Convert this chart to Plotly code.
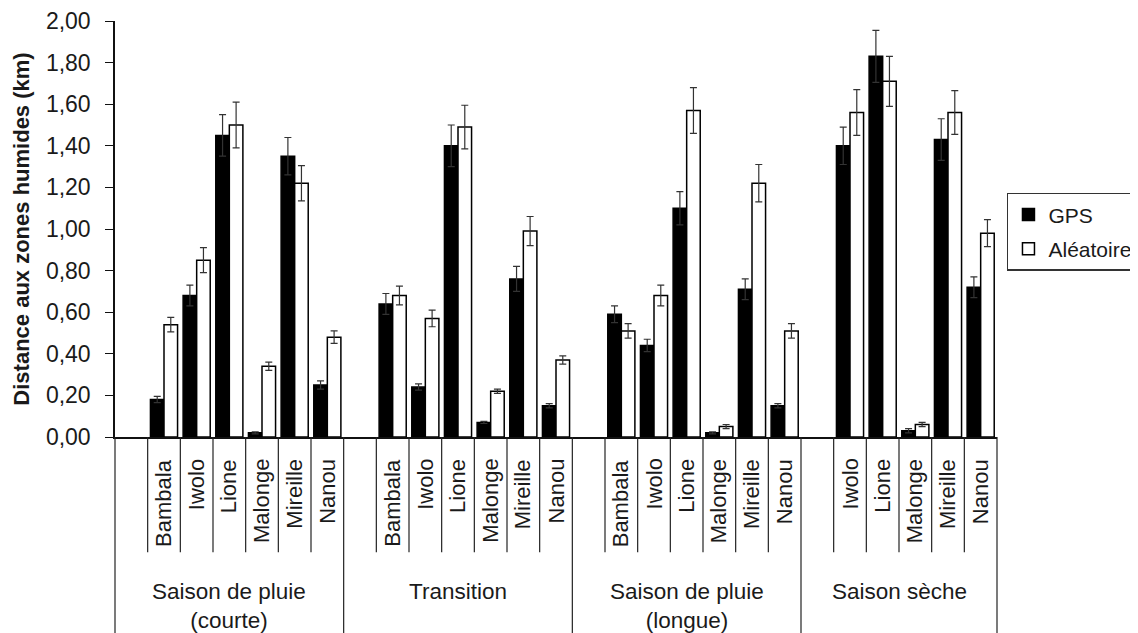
import plotly.graph_objects as go

# ---------------- data ----------------
season_labels = ["Saison de pluie<br>(courte)", "Transition",
                 "Saison de pluie<br>(longue)", "Saison sèche"]
season_individuals = [
    ["Bambala", "Iwolo", "Lione", "Malonge", "Mireille", "Nanou"],
    ["Bambala", "Iwolo", "Lione", "Malonge", "Mireille", "Nanou"],
    ["Bambala", "Iwolo", "Lione", "Malonge", "Mireille", "Nanou"],
    ["Iwolo", "Lione", "Malonge", "Mireille", "Nanou"],
]
gps = [0.18, 0.68, 1.45, 0.02, 1.35, 0.25,
       0.64, 0.24, 1.40, 0.07, 0.76, 0.15,
       0.59, 0.44, 1.10, 0.02, 0.71, 0.15,
       1.40, 1.83, 0.03, 1.43, 0.72]
gps_err = [0.015, 0.05, 0.10, 0.005, 0.09, 0.02,
           0.05, 0.015, 0.10, 0.005, 0.06, 0.01,
           0.04, 0.03, 0.08, 0.005, 0.05, 0.01,
           0.09, 0.125, 0.01, 0.10, 0.05]
aleatoire = [0.54, 0.85, 1.50, 0.34, 1.22, 0.48,
             0.68, 0.57, 1.49, 0.22, 0.99, 0.37,
             0.51, 0.68, 1.57, 0.05, 1.22, 0.51,
             1.56, 1.71, 0.06, 1.56, 0.98]
aleatoire_err = [0.035, 0.06, 0.11, 0.02, 0.085, 0.03,
                 0.045, 0.04, 0.105, 0.01, 0.07, 0.02,
                 0.035, 0.05, 0.11, 0.01, 0.09, 0.035,
                 0.11, 0.12, 0.01, 0.105, 0.065]
y_ticks = [0, 0.2, 0.4, 0.6, 0.8, 1.0, 1.2, 1.4, 1.6, 1.8, 2.0]

# ---------------- slot layout (one blank slot opens every season) ----------------
x_pos, x_names = [], []
group_bounds = []   # (start_slot, end_slot) per season
slot = 0
for members in season_individuals:
    start = slot
    slot += 1  # blank slot
    for name in members:
        x_pos.append(slot)
        x_names.append(name)
        slot += 1
    group_bounds.append((start, slot))
n_slots = slot

FONT = "Liberation Sans, Arial, sans-serif"
TXT = "#1a1a1a"

fig = go.Figure()
fig.add_trace(go.Bar(
    x=x_pos, y=gps, name="GPS", legendgroup="g1",
    marker=dict(color="#000000", line=dict(color="#000000", width=1.5)),
    error_y=dict(type="data", array=gps_err, visible=True,
                 color="#333333", thickness=1.2, width=3.5),
))
fig.add_trace(go.Bar(
    x=x_pos, y=aleatoire, name="Aléatoire", legendgroup="g2",
    marker=dict(color="#ffffff", line=dict(color="#000000", width=1.5)),
    error_y=dict(type="data", array=aleatoire_err, visible=True,
                 color="#333333", thickness=1.2, width=3.5),
))

shapes = []
annotations = []
SHORT = -0.277
LONG = -0.475
# boundary lines under the axis
group_edges = set()
for (s, e) in group_bounds:
    group_edges.add(s)
    group_edges.add(e)
for b in range(n_slots + 1):
    xp = b / n_slots
    y1 = LONG if b in group_edges else SHORT
    shapes.append(dict(type="line", xref="paper", yref="paper",
                       x0=xp, x1=xp, y0=0, y1=y1,
                       line=dict(color="#222222", width=1.2)))

# individual labels (rotated)
for xp, name in zip(x_pos, x_names):
    annotations.append(dict(x=xp, xref="x", y=-0.048, yref="paper",
                            text=name, textangle=-90, showarrow=False,
                            xanchor="center", yanchor="top",
                            font=dict(family=FONT, size=22, color=TXT)))
# season labels
for (s, e), lab in zip(group_bounds, season_labels):
    annotations.append(dict(x=(s + e) / 2 / n_slots, xref="paper",
                            y=-0.336, yref="paper", text=lab,
                            showarrow=False, xanchor="center", yanchor="top",
                            font=dict(family=FONT, size=22.5, color=TXT)))

# page body adds an 8px margin, so the figure is 8px smaller and margins shifted
fig.update_layout(
    width=1130, height=625,
    margin=dict(l=107, r=141, t=13, b=196, autoexpand=False),
    paper_bgcolor="white", plot_bgcolor="white",
    barmode="group", bargap=0.17, bargroupgap=0,
    separators=", ",
    font=dict(family=FONT, size=21, color=TXT),
    showlegend=True,
    legend=dict(x=1.0113, xanchor="left", y=0.587, yanchor="top",
                bordercolor="#333333", borderwidth=1.5,
                font=dict(family=FONT, size=21, color=TXT),
                tracegroupgap=4, bgcolor="white"),
    shapes=shapes, annotations=annotations,
)
fig.update_xaxes(range=[-0.5, n_slots - 0.5], showticklabels=False,
                 ticks="", showgrid=False, zeroline=False,
                 showline=True, linecolor="#111111", linewidth=1.5)
fig.update_yaxes(range=[0, 2.0], tickvals=y_ticks, tickformat=".2f",
                 ticks="outside", ticklen=8, tickcolor="#111111", tickwidth=1.2,
                 showgrid=False, zeroline=False,
                 showline=True, linecolor="#111111", linewidth=1.5,
                 ticklabelstandoff=10,
                 tickfont=dict(family=FONT, size=23, color=TXT),
                 title=dict(text="<b>Distance aux zones humides (km)</b>",
                            font=dict(family=FONT, size=22, color=TXT),
                            standoff=10))

fig.write_html("out.html")
